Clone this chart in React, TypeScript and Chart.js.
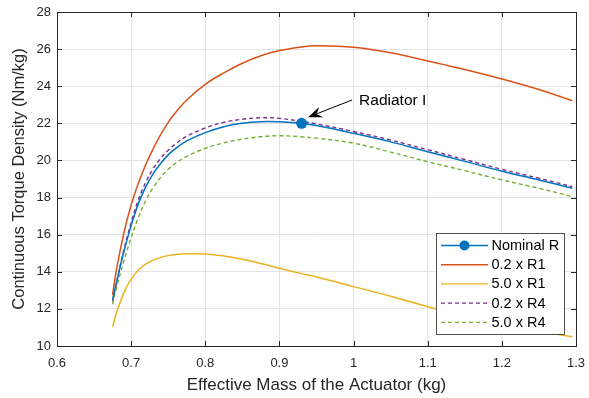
import React, { useEffect, useRef } from 'react';
import { Chart, registerables } from 'chart.js';

Chart.register(...registerables);

// ---- data (x = effective mass in kg, y = continuous torque density in Nm/kg) ----
const massKg = [0.675, 0.68, 0.69, 0.7, 0.71, 0.72, 0.73, 0.74, 0.75, 0.76, 0.775, 0.8, 0.825, 0.85, 0.875, 0.9, 0.93, 0.95, 1.0, 1.05, 1.1, 1.15, 1.2, 1.25, 1.295];
const nominalR = [12.5, 13.4, 15.05, 16.5, 17.7, 18.6, 19.3, 19.85, 20.3, 20.65, 21.05, 21.5, 21.82, 22.0, 22.09, 22.08, 22.0, 21.88, 21.46, 21.0, 20.47, 19.95, 19.42, 18.95, 18.5];
const r1Low = [12.75, 14.08, 16.05, 17.6, 18.8, 19.8, 20.65, 21.4, 22.05, 22.58, 23.26, 24.1, 24.72, 25.24, 25.64, 25.92, 26.12, 26.18, 26.1, 25.8, 25.36, 24.9, 24.39, 23.82, 23.22];
const r1High = [11.04, 11.75, 12.85, 13.6, 14.1, 14.42, 14.63, 14.77, 14.87, 14.93, 14.97, 14.96, 14.85, 14.68, 14.45, 14.19, 13.9, 13.72, 13.2, 12.68, 12.12, 11.62, 11.15, 10.8, 10.5];
const r4Low = [12.4, 13.35, 15.15, 16.65, 17.9, 18.85, 19.58, 20.12, 20.55, 20.9, 21.3, 21.75, 22.05, 22.22, 22.3, 22.27, 22.1, 21.97, 21.56, 21.1, 20.58, 20.05, 19.52, 19.04, 18.59];
const r4High = [12.25, 13.1, 14.55, 15.85, 16.95, 17.85, 18.55, 19.1, 19.52, 19.85, 20.22, 20.65, 20.95, 21.15, 21.28, 21.33, 21.27, 21.2, 20.93, 20.45, 19.93, 19.45, 18.95, 18.5, 18.05];

const seriesNames = ['Nominal R', '0.2 x R1', '5.0 x R1', '0.2 x R4', '5.0 x R4'];
const markerMass = 0.93;
const annotText = 'Radiator I';
const arrowTip = { x: 0.9387, y: 22.33 };
const arrowTail = { x: 0.998, y: 23.26 };
const xTitle = 'Effective Mass of the Actuator (kg)';
const yTitle = 'Continuous Torque Density (Nm/kg)';

const FONT = "'Liberation Sans', Arial, Helvetica, sans-serif";
const AXIS_COLOR = '#262626';
const colors = ['#0072BD', '#D95319', '#EDB120', '#7E2F8E', '#77AC30'];
const dashes: number[][] = [[], [], [], [4, 3], [4, 3]];

const pts = (ys: number[]) => massKg.map((x, i) => ({ x, y: ys[i] }));
const markerIndex = massKg.indexOf(markerMass);

const overlay = {
  id: 'matlabOverlay',
  afterDatasetsDraw(chart: any) {
    const { ctx, chartArea: a, scales } = chart;
    const xs = scales.x, ys = scales.y;
    ctx.save();
    // frame
    ctx.strokeStyle = AXIS_COLOR;
    ctx.lineWidth = 1;
    ctx.setLineDash([]);
    ctx.strokeRect(Math.round(a.left) + 0.5, Math.round(a.top) + 0.5, Math.round(a.right - a.left), Math.round(a.bottom - a.top));
    // inward ticks
    const tl = 5;
    ctx.beginPath();
    xs.ticks.forEach((t: any) => {
      const px = Math.round(xs.getPixelForValue(t.value)) + 0.5;
      ctx.moveTo(px, a.bottom); ctx.lineTo(px, a.bottom - tl);
      ctx.moveTo(px, a.top); ctx.lineTo(px, a.top + tl);
    });
    ys.ticks.forEach((t: any) => {
      const py = Math.round(ys.getPixelForValue(t.value)) + 0.5;
      ctx.moveTo(a.left, py); ctx.lineTo(a.left + tl, py);
      ctx.moveTo(a.right, py); ctx.lineTo(a.right - tl, py);
    });
    ctx.stroke();

    // annotation arrow
    const tx = xs.getPixelForValue(arrowTip.x), ty = ys.getPixelForValue(arrowTip.y);
    const sx = xs.getPixelForValue(arrowTail.x), sy = ys.getPixelForValue(arrowTail.y);
    const ang = Math.atan2(ty - sy, tx - sx);
    const hl = 14, hw = 5.5;
    ctx.strokeStyle = '#000';
    ctx.fillStyle = '#000';
    ctx.lineWidth = 1;
    ctx.beginPath();
    ctx.moveTo(sx, sy);
    ctx.lineTo(tx - Math.cos(ang) * hl * 0.7, ty - Math.sin(ang) * hl * 0.7);
    ctx.stroke();
    const bx = tx - Math.cos(ang) * hl, by = ty - Math.sin(ang) * hl;
    const nx = -Math.sin(ang), ny = Math.cos(ang);
    const ix = tx - Math.cos(ang) * hl * 0.65, iy = ty - Math.sin(ang) * hl * 0.65;
    ctx.beginPath();
    ctx.moveTo(tx, ty);
    ctx.lineTo(bx + nx * hw, by + ny * hw);
    ctx.lineTo(ix, iy);
    ctx.lineTo(bx - nx * hw, by - ny * hw);
    ctx.closePath();
    ctx.fill();
    ctx.font = `15.5px ${FONT}`;
    ctx.textAlign = 'left';
    ctx.textBaseline = 'middle';
    ctx.fillStyle = '#000';
    ctx.fillText(annotText, sx + 7, sy + 0.5);

    // legend
    const lx = 436, ly = 233, lw = 128, lh = 101;
    ctx.fillStyle = '#fff';
    ctx.fillRect(lx, ly, lw, lh);
    ctx.strokeStyle = '#262626';
    ctx.lineWidth = 0.8;
    ctx.strokeRect(lx + 0.5, ly + 0.5, lw, lh);
    ctx.font = `14.5px ${FONT}`;
    ctx.textBaseline = 'middle';
    seriesNames.forEach((name, i) => {
      const yy = ly + 12.5 + i * 19.2;
      ctx.strokeStyle = colors[i];
      ctx.lineWidth = i >= 3 ? 1.2 : 1.4;
      ctx.setLineDash(dashes[i]);
      ctx.beginPath();
      ctx.moveTo(lx + 5, yy);
      ctx.lineTo(lx + 52, yy);
      ctx.stroke();
      ctx.setLineDash([]);
      if (i === 0) {
        ctx.fillStyle = colors[0];
        ctx.beginPath();
        ctx.arc(lx + 28.5, yy, 5, 0, Math.PI * 2);
        ctx.fill();
      }
      ctx.fillStyle = '#000';
      ctx.fillText(name, lx + 55.5, yy + 0.5);
    });
    ctx.restore();
  },
};

const zeroPad = (s: any) => {
  s.paddingLeft = 0; s.paddingRight = 0; s.paddingTop = 0; s.paddingBottom = 0;
};

export default function App() {
  const ref = useRef<HTMLCanvasElement>(null);
  useEffect(() => {
    if (!ref.current) return;
    const ysAll = [nominalR, r1Low, r1High, r4Low, r4High];
    const datasets = ysAll.map((ys, i) => ({
      label: seriesNames[i],
      data: pts(ys),
      borderColor: colors[i],
      backgroundColor: colors[i],
      borderWidth: i >= 3 ? 1.4 : 1.5,
      borderDash: dashes[i],
      tension: 0.4,
      pointRadius: i === 0 ? ((c: any) => (c.dataIndex === markerIndex ? 5.5 : 0)) : 0,
      pointHoverRadius: 0,
      pointBorderWidth: 0,
      order: i === 0 ? 0 : 5 - i,
    }));
    const chart = new Chart(ref.current, {
      type: 'line',
      data: { datasets },
      plugins: [overlay],
      options: {
        animation: false,
        responsive: false,
        maintainAspectRatio: false,
        layout: { padding: { top: 12, right: 13, left: 0, bottom: 0 } },
        plugins: { legend: { display: false }, tooltip: { enabled: false } },
        scales: {
          x: {
            type: 'linear',
            min: 0.6,
            max: 1.3,
            afterFit: (s: any) => { s.height = 52; zeroPad(s); },
            border: { display: false },
            grid: { color: '#e3e3e3', drawTicks: false, lineWidth: 1 },
            ticks: {
              stepSize: 0.1,
              padding: 10,
              color: AXIS_COLOR,
              font: { family: FONT, size: 13 },
              callback: (v: any) => Number(v).toFixed(1).replace(/^1\.0$/, '1'),
            },
            title: { display: true, text: xTitle, color: AXIS_COLOR, font: { family: FONT, size: 17 }, padding: { top: 2, bottom: 2 } },
          },
          y: {
            type: 'linear',
            min: 10,
            max: 28,
            afterFit: (s: any) => { s.width = 57; zeroPad(s); },
            border: { display: false },
            grid: { color: '#e3e3e3', drawTicks: false, lineWidth: 1 },
            ticks: { stepSize: 2, padding: 6, color: AXIS_COLOR, font: { family: FONT, size: 13 } },
            title: { display: true, text: yTitle, color: AXIS_COLOR, font: { family: FONT, size: 16.5 }, padding: { top: 10, bottom: 0 } },
          },
        },
      },
    });
    return () => chart.destroy();
  }, []);
  return (
    <div style={{ position: 'fixed', left: 0, top: 0, width: 589, height: 398, background: '#fff' }}>
      <canvas ref={ref} width={589} height={398} style={{ width: 589, height: 398 }} />
    </div>
  );
}
